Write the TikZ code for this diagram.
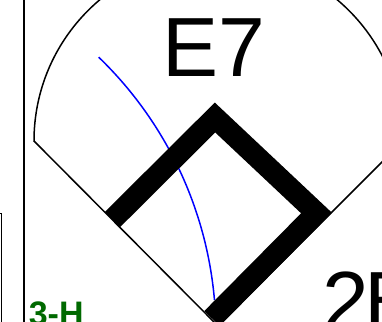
\documentclass[tikz,border=0pt]{standalone}
\usepackage{fontspec}
\setmainfont{Liberation Sans}
\definecolor{scoregreen}{RGB}{0,105,0}
\definecolor{hitblue}{RGB}{0,0,255}
\begin{document}
\begin{tikzpicture}[x=1pt,y=-1pt,
  thinline/.style={line width=1.5pt, black},
  basepath/.style={line width=21.5pt, black, line join=miter, line cap=butt},
  hitline/.style={line width=1.5pt, hitblue},
  bigtext/.style={inner sep=0pt, font=\fontsize{84}{84}\selectfont},
  playtext/.style={inner sep=0pt, text=scoregreen, font=\bfseries\fontsize{34}{34}\selectfont}]
\useasboundingbox (0,0) rectangle (382,321);
\clip (0,0) rectangle (382,321);
% cell borders
\draw[thinline] (24,-5) -- (24,330);
\draw[thinline] (-5,213.5) -- (1.5,213.5) -- (1.5,330);
% field outline
\coordinate (home) at (218,326);
\coordinate (third) at (34,141);
\coordinate (first) at (403,141);
\draw[thinline] (home) -- (third) arc[start angle=180, end angle=360, radius=184.5] -- (home);
% hit trajectory
\draw[hitline] (98.7,57.2) arc[start angle=-46.05, end angle=-4.94, radius=383];
% runner path
\coordinate (b3) at (112.5,219.5);
\coordinate (b2) at (215,117.5);
\coordinate (b1) at (316.5,213);
\coordinate (bh) at (212,318.5);
\draw[basepath] (b3) -- (b2) -- (b1) -- (bh);
% texts
\node[bigtext, anchor=base] (e7) at (214,76) {E7};
\node[bigtext, anchor=base west] (twob) at (322.5,330) {2\kern-5pt B};
\node[playtext, anchor=base west] (threeh) at (28.6,325) {3-H};
\end{tikzpicture}
\end{document}
